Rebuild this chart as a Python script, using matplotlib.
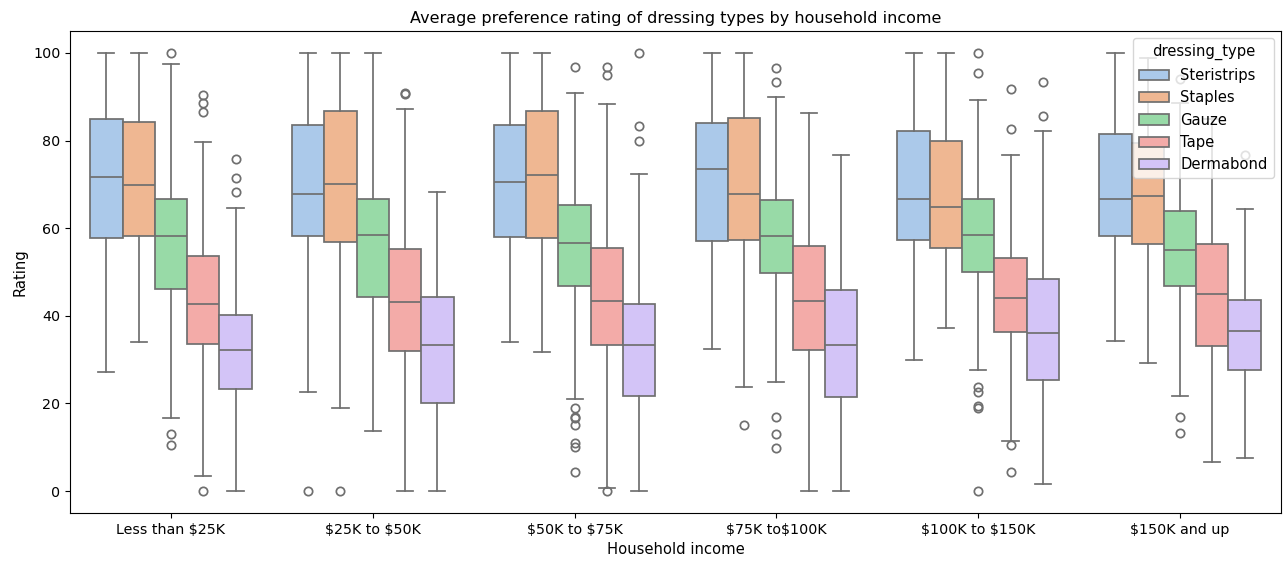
import colorsys
import matplotlib
matplotlib.use("Agg")
import matplotlib.pyplot as plt
from matplotlib.colors import to_rgb
from matplotlib.patches import Patch

plt.rcParams["text.parse_math"] = False

incomes = ["Less than $25K", "$25K to $50K", "$50K to $75K", "$75K to$100K",
           "$100K to $150K", "$150K and up"]
dressings = ["Steristrips", "Staples", "Gauze", "Tape", "Dermabond"]

# per dressing type: lists over income groups
whislo = {
    "Steristrips": [27.2, 22.7, 34.0, 32.4, 30.0, 34.3],
    "Staples":     [34.0, 19.0, 31.7, 23.8, 37.2, 29.3],
    "Gauze":       [16.7, 13.8, 20.9, 24.8, 27.6, 21.7],
    "Tape":        [3.4, 0.0, 0.6, 0.0, 11.5, 6.7],
    "Dermabond":   [0.0, 0.0, 0.0, 0.0, 1.6, 7.5],
}
q1 = {
    "Steristrips": [57.7, 58.2, 57.9, 57.0, 57.2, 58.2],
    "Staples":     [58.2, 56.8, 57.7, 57.4, 55.4, 56.5],
    "Gauze":       [46.1, 44.3, 46.8, 49.7, 50.0, 46.8],
    "Tape":        [33.5, 32.0, 33.4, 32.1, 36.2, 33.2],
    "Dermabond":   [23.2, 20.1, 21.7, 21.4, 25.3, 27.6],
}
med = {
    "Steristrips": [71.6, 67.7, 70.5, 73.4, 66.6, 66.7],
    "Staples":     [69.8, 70.1, 72.2, 67.7, 64.8, 67.4],
    "Gauze":       [58.2, 58.4, 56.7, 58.3, 58.4, 55.1],
    "Tape":        [42.6, 43.1, 43.4, 43.4, 44.1, 44.9],
    "Dermabond":   [32.1, 33.4, 33.4, 33.4, 36.0, 36.6],
}
q3 = {
    "Steristrips": [85.0, 83.5, 83.5, 84.0, 82.1, 81.6],
    "Staples":     [84.2, 86.8, 86.7, 85.2, 80.0, 79.4],
    "Gauze":       [66.6, 66.6, 65.2, 66.4, 66.6, 64.0],
    "Tape":        [53.7, 55.2, 55.4, 55.9, 53.2, 56.4],
    "Dermabond":   [40.2, 44.2, 42.6, 46.0, 48.4, 43.6],
}
whishi = {
    "Steristrips": [100, 100, 100, 100, 100, 100],
    "Staples":     [100, 100, 100, 100, 100, 98.8],
    "Gauze":       [97.4, 100, 90.8, 90.0, 89.3, 88.6],
    "Tape":        [79.7, 87.1, 88.3, 86.4, 76.7, 85.0],
    "Dermabond":   [64.7, 68.3, 72.3, 76.6, 82.2, 64.4],
}
fliers = {
    "Steristrips": [[], [0.0], [], [], [], []],
    "Staples":     [[], [0.0], [], [15.0], [], []],
    "Gauze":       [[100.0, 13.0, 10.5], [],
                    [96.7, 18.9, 17.0, 16.6, 15.0, 10.9, 10.1, 4.3],
                    [96.6, 93.4, 16.8, 13.1, 9.8],
                    [100.0, 95.5, 23.7, 22.7, 19.5, 19.0, 0.0],
                    [94.1, 16.8, 13.3]],
    "Tape":        [[90.3, 88.6, 86.6, 0.0], [90.9, 90.6], [96.9, 95.0, 0.0], [],
                    [91.7, 82.7, 10.5, 4.3], []],
    "Dermabond":   [[75.8, 71.4, 68.3], [], [100.0, 83.3, 79.8], [], [93.4, 85.5], [76.8]],
}

pastel = ["#a1c9f4", "#ffb482", "#8de5a1", "#ff9f9b", "#d0bbff"]


def desat(c, prop=0.75):
    h, l, s = colorsys.rgb_to_hls(*to_rgb(c))
    return colorsys.hls_to_rgb(h, l, s * prop)


colors = [desat(c) for c in pastel]
lum = min(colorsys.rgb_to_hls(*to_rgb(c))[1] for c in colors) * 0.6
gray = (lum, lum, lum)

fig = plt.figure(figsize=(12.83, 5.61), dpi=100)
ax = fig.add_axes([0.0546, 0.0856, 0.9438, 0.8591])

n = len(dressings)
bw = 0.8 / n
lw = 1.25
for j, d in enumerate(dressings):
    stats = []
    for i in range(len(incomes)):
        stats.append(dict(med=med[d][i], q1=q1[d][i], q3=q3[d][i],
                          whislo=whislo[d][i], whishi=whishi[d][i],
                          fliers=fliers[d][i]))
    pos = [i - 0.4 + bw * (j + 0.5) for i in range(len(incomes))]
    ax.bxp(stats, positions=pos, widths=bw, patch_artist=True,
           showfliers=True, manage_ticks=False,
           boxprops=dict(facecolor=colors[j], edgecolor=gray, linewidth=lw),
           medianprops=dict(color=gray, linewidth=lw),
           whiskerprops=dict(color=gray, linewidth=lw),
           capprops=dict(color=gray, linewidth=lw),
           capwidths=bw / 2,
           flierprops=dict(marker="o", markerfacecolor="none",
                           markeredgecolor=gray, markersize=6, linewidth=0,
                           markeredgewidth=lw))

ax.set_xlim(-0.5, len(incomes) - 0.5)
ax.set_ylim(-5, 105)
ax.set_xticks(range(len(incomes)))
ax.set_xticklabels(incomes)
ax.set_yticks([0, 20, 40, 60, 80, 100])
ax.tick_params(labelsize=10.3)
ax.set_xlabel("Household income", fontsize=10.6)
ax.set_ylabel("Rating", fontsize=10.6)
ax.set_title("Average preference rating of dressing types by household income",
             fontsize=11.5)

handles = [Patch(facecolor=colors[j], edgecolor=gray, linewidth=lw, label=d)
           for j, d in enumerate(dressings)]
ax.legend(handles=handles, title="dressing_type", loc="upper right", fontsize=10.6,
          title_fontsize=10.6)

fig.savefig("out.png", dpi=100)
